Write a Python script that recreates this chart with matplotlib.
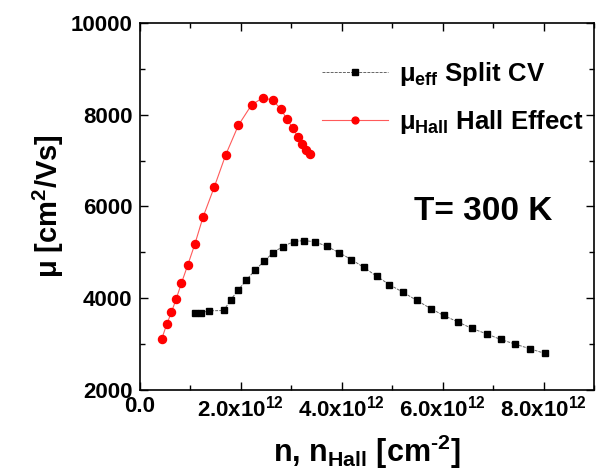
import matplotlib
matplotlib.use("Agg")
import matplotlib.pyplot as plt
from matplotlib.ticker import MultipleLocator, FixedLocator

plt.rcParams['font.family'] = ['Liberation Sans', 'DejaVu Sans']
plt.rcParams['mathtext.fontset'] = 'custom'
plt.rcParams['mathtext.rm'] = 'Liberation Sans:bold'
plt.rcParams['mathtext.bf'] = 'Liberation Sans:bold'
plt.rcParams['mathtext.it'] = 'Liberation Sans:bold'

# Hall effect data (x in 1e12 cm^-2)
hall_n = [0.43, 0.53, 0.62, 0.715, 0.82, 0.947, 1.086, 1.25, 1.47, 1.70, 1.95,
          2.21, 2.44, 2.63, 2.79, 2.91, 3.03, 3.13, 3.22, 3.30, 3.36]
hall_mu = [3115, 3435, 3689, 3980, 4328, 4728, 5178, 5773, 6420, 7131, 7771,
           8214, 8373, 8315, 8126, 7908, 7705, 7516, 7357, 7240, 7146]

# Split CV data
cv_n = [1.09, 1.21, 1.36, 1.66, 1.80, 1.95, 2.11, 2.28, 2.46, 2.64, 2.83, 3.05,
        3.25, 3.47, 3.70, 3.94, 4.19, 4.44, 4.69, 4.94, 5.22, 5.49, 5.76, 6.02,
        6.31, 6.58, 6.87, 7.15, 7.44, 7.73, 8.03]
cv_mu = [3682, 3682, 3725, 3733, 3972, 4183, 4401, 4611, 4808, 4996, 5127, 5236,
         5258, 5229, 5134, 4996, 4844, 4670, 4481, 4299, 4125, 3951, 3776, 3624,
         3479, 3341, 3224, 3101, 2999, 2898, 2796]

x_ticks = [0, 2, 4, 6, 8]
x_tick_labels = ['0.0', r'$2.0x10^{12}$', r'$4.0x10^{12}$', r'$6.0x10^{12}$', r'$8.0x10^{12}$']
y_ticks = [2000, 4000, 6000, 8000, 10000]

fig = plt.figure(figsize=(5.96, 4.75), dpi=100)
ax = fig.add_axes([0.235, 0.179, 0.7616, 0.7726])

ax.plot(cv_n, cv_mu, color='#666666', lw=0.7, ls='--', dashes=(3, 1.2),
        marker='s', ms=5, mfc='black', mec='black',
        label=r'$\mu_{eff}$ Split CV')
ax.plot(hall_n, hall_mu, color='#ff5a5a', lw=0.8,
        marker='o', ms=5.8, mfc='#ff0000', mec='#ff0000',
        label=r'$\mu_{Hall}$ Hall Effect')

ax.set_xlim(0, 9)
ax.set_ylim(2000, 10000)
ax.xaxis.set_major_locator(FixedLocator(x_ticks))
ax.set_xticklabels(x_tick_labels)
ax.xaxis.set_minor_locator(MultipleLocator(1))
ax.yaxis.set_major_locator(FixedLocator(y_ticks))
ax.yaxis.set_minor_locator(MultipleLocator(1000))
ax.tick_params(which='both', direction='in', top=True, right=True, width=1.0)
ax.tick_params(which='major', length=6, labelsize=16)
ax.tick_params(axis='x', which='major', pad=4)
ax.tick_params(axis='y', which='major', pad=5.5)
ax.tick_params(which='minor', length=3.5)
for lab in ax.get_xticklabels() + ax.get_yticklabels():
    lab.set_fontweight('bold')
for s in ax.spines.values():
    s.set_linewidth(1.2)

ax.set_xlabel(r'n, n$_{Hall}$ [cm$^{\text{-}2}$]', fontsize=22, fontweight='bold', labelpad=8)
ax.set_ylabel(r'$\mu$ [cm$^{2}$/Vs]', fontsize=21, fontweight='bold', labelpad=3)

ax.text(0.755, 0.487, 'T= 300 K', transform=ax.transAxes, fontsize=24,
        fontweight='bold', ha='center', va='center')

leg = ax.legend(loc='upper left', bbox_to_anchor=(0.40, 0.90), frameon=False,
                prop={'size': 18.5, 'weight': 'bold'}, handlelength=2.6,
                handletextpad=0.4, labelspacing=0.8, borderpad=0,
                borderaxespad=0, markerscale=0.85)

fig.savefig('out.png', dpi=100)
